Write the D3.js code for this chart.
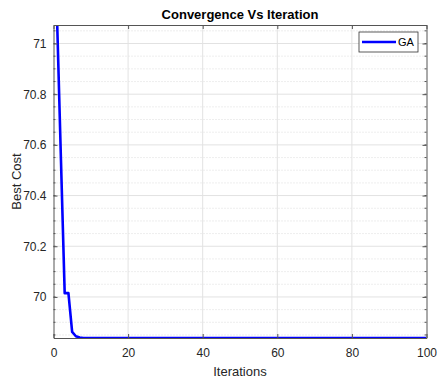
<!DOCTYPE html>
<html>
<head>
<meta charset="utf-8">
<script src="https://cdn.jsdelivr.net/npm/d3@7"></script>
<style>
  body { margin: 0; background: #fff; }
  svg { font-family: "Liberation Sans", Arial, sans-serif; }
</style>
</head>
<body>
<div class="canvas"></div>
<script>
// best cost per iteration (GA)
const iterations = d3.range(1, 101);
const gaHead = [71.073, 70.54, 70.015, 70.015, 69.862, 69.845, 69.840];
const gaTail = 69.838;
const gaCost = iterations.map((it, i) => (i < gaHead.length ? gaHead[i] : gaTail));
const xTicks = [0, 20, 40, 60, 80, 100];
const yTicks = [70, 70.2, 70.4, 70.6, 70.8, 71];
const yMinorTicks = d3.range(69.85, 71.07, 0.05).map(v => +v.toFixed(2));

const w = 438;
const h = 382;
const margin = { top: 25, right: 11.5, bottom: 44, left: 53.5 };
const graphWidth = w - margin.left - margin.right;
const graphHeight = h - margin.top - margin.bottom;

const svg = d3.select(".canvas").append("svg").attr("width", w).attr("height", h);

const x = d3.scaleLinear().domain([0, 100]).range([0, graphWidth]);
const y = d3.scaleLinear().domain(d3.extent(gaCost)).range([graphHeight, 0]);

const graph = svg.append("g").attr("transform", `translate(${margin.left}, ${margin.top})`);

// minor grid (dotted)
graph.append("g")
  .selectAll("line")
  .data(yMinorTicks.filter(v => !yTicks.some(t => Math.abs(t - v) < 1e-6)))
  .enter().append("line")
  .attr("x1", 0).attr("x2", graphWidth)
  .attr("y1", d => y(d)).attr("y2", d => y(d))
  .attr("stroke", "#d4d4d4").attr("stroke-width", 0.8)
  .attr("stroke-dasharray", "1,2");

// major grid
graph.append("g")
  .selectAll("line")
  .data(yTicks)
  .enter().append("line")
  .attr("x1", 0).attr("x2", graphWidth)
  .attr("y1", d => y(d)).attr("y2", d => y(d))
  .attr("stroke", "#e2e2e2");
graph.append("g")
  .selectAll("line")
  .data(xTicks.slice(1, -1))
  .enter().append("line")
  .attr("y1", 0).attr("y2", graphHeight)
  .attr("x1", d => x(d)).attr("x2", d => x(d))
  .attr("stroke", "#e2e2e2");

// data line
const clip = svg.append("clipPath").attr("id", "clip")
  .append("rect").attr("width", graphWidth).attr("height", graphHeight + 2).attr("y", -1);
const line = d3.line().x((d, i) => x(iterations[i])).y(d => y(d));
graph.append("path")
  .datum(gaCost)
  .attr("clip-path", "url(#clip)")
  .attr("d", line)
  .attr("fill", "none")
  .attr("stroke", "#0000ff")
  .attr("stroke-width", 2.6)
  .attr("stroke-linejoin", "round");

// axes (ticks inward)
const axisColor = "#555";
const xAxis = d3.axisBottom(x).tickValues(xTicks).tickSizeInner(-4).tickSizeOuter(0).tickPadding(10);
const yAxis = d3.axisLeft(y).tickValues(yTicks).tickSizeInner(-4).tickSizeOuter(0).tickPadding(7).tickFormat(d3.format("~g"));
const xAxisTop = d3.axisTop(x).tickValues(xTicks).tickSizeInner(-4).tickSizeOuter(0).tickFormat("");
const yAxisRight = d3.axisRight(y).tickValues(yTicks).tickSizeInner(-4).tickSizeOuter(0).tickFormat("");

const gx = graph.append("g").attr("transform", `translate(0, ${graphHeight})`).call(xAxis);
const gy = graph.append("g").call(yAxis);
const gxt = graph.append("g").call(xAxisTop);
const gyr = graph.append("g").attr("transform", `translate(${graphWidth}, 0)`).call(yAxisRight);

// minor y ticks on both sides
[0, graphWidth].forEach(px => {
  graph.append("g").selectAll("line")
    .data(yMinorTicks)
    .enter().append("line")
    .attr("x1", px).attr("x2", px === 0 ? 2 : px - 2)
    .attr("y1", d => y(d)).attr("y2", d => y(d))
    .attr("stroke", axisColor);
});

[gx, gy, gxt, gyr].forEach(g => {
  g.select(".domain").attr("stroke", axisColor);
  g.selectAll(".tick line").attr("stroke", axisColor);
  g.selectAll("text").attr("fill", "#262626").style("font-size", "12px")
    .style("font-family", "Liberation Sans, Arial, sans-serif");
});

// title and labels
svg.append("text")
  .attr("x", margin.left + graphWidth / 2).attr("y", 19)
  .attr("text-anchor", "middle")
  .style("font-weight", "bold").style("font-size", "13px")
  .attr("fill", "#000")
  .text("Convergence Vs Iteration");

svg.append("text")
  .attr("x", margin.left + graphWidth / 2).attr("y", 376)
  .attr("text-anchor", "middle")
  .style("font-size", "13px").attr("fill", "#262626")
  .text("Iterations");

svg.append("text")
  .attr("transform", `translate(21, ${margin.top + graphHeight / 2}) rotate(-90)`)
  .attr("text-anchor", "middle")
  .style("font-size", "13px").attr("fill", "#262626")
  .text("Best Cost");

// legend
const legend = svg.append("g").attr("transform", "translate(359, 32)");
legend.append("rect")
  .attr("width", 59).attr("height", 20)
  .attr("fill", "#fff").attr("stroke", "#333").attr("stroke-width", 0.8);
legend.append("line")
  .attr("x1", 3).attr("x2", 37).attr("y1", 10).attr("y2", 10)
  .attr("stroke", "#0000ff").attr("stroke-width", 2.6);
legend.append("text")
  .attr("x", 39).attr("y", 14)
  .style("font-size", "11px").attr("fill", "#000")
  .text("GA");
</script>
</body>
</html>
